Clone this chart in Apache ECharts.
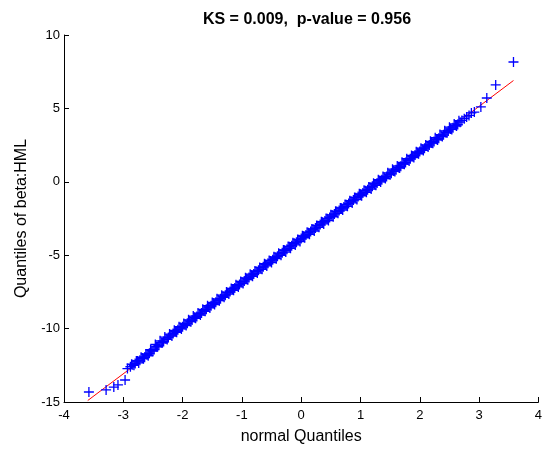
<!DOCTYPE html>
<html>
<head>
<meta charset="utf-8">
<script src="https://cdn.jsdelivr.net/npm/echarts@6/dist/echarts.min.js"></script>
<style>
  html, body { margin: 0; padding: 0; background: #fff; }
  #main { width: 545px; height: 452px; }
</style>
</head>
<body>
<div id="main"></div>
<script>
// normal quantiles (x) and sample quantiles of beta:HML (y)
var qx = [
  -3.58, -3.29, -3.16, -3.09, -2.97, -2.93,
  -2.88, -2.84, -2.80, -2.76, -2.72, -2.68, -2.64, -2.60, -2.56, -2.52,
  -2.48, -2.44, -2.40, -2.36, -2.32, -2.28, -2.24, -2.20, -2.16, -2.12,
  -2.08, -2.04, -2.00, -1.96, -1.92, -1.88, -1.84, -1.80, -1.76, -1.72,
  -1.68, -1.64, -1.60, -1.56, -1.52, -1.48, -1.44, -1.40, -1.36, -1.32,
  -1.28, -1.24, -1.20, -1.16, -1.12, -1.08, -1.04, -1.00, -0.96, -0.92,
  -0.88, -0.84, -0.80, -0.76, -0.72, -0.68, -0.64, -0.60, -0.56, -0.52,
  -0.48, -0.44, -0.40, -0.36, -0.32, -0.28, -0.24, -0.20, -0.16, -0.12,
  -0.08, -0.04, 0.00, 0.04, 0.08, 0.12, 0.16, 0.20, 0.24, 0.28,
  0.32, 0.36, 0.40, 0.44, 0.48, 0.52, 0.56, 0.60, 0.64, 0.68,
  0.72, 0.76, 0.80, 0.84, 0.88, 0.92, 0.96, 1.00, 1.04, 1.08,
  1.12, 1.16, 1.20, 1.24, 1.28, 1.32, 1.36, 1.40, 1.44, 1.48,
  1.52, 1.56, 1.60, 1.64, 1.68, 1.72, 1.76, 1.80, 1.84, 1.88,
  1.92, 1.96, 2.00, 2.04, 2.08, 2.12, 2.16, 2.20, 2.24, 2.28,
  2.32, 2.36, 2.40, 2.44, 2.48, 2.52, 2.56, 2.60, 2.64, 2.68,
  2.71, 2.75, 2.79, 2.83, 2.87, 2.92, 3.03, 3.13, 3.28, 3.58
];
var qy = [
  -14.32, -14.18, -13.98, -13.84, -13.50, -12.72,
  -12.60, -12.46, -12.38, -12.20, -12.15, -12.00, -11.95, -11.78, -11.68, -11.50,
  -11.42, -11.22, -11.14, -10.96, -10.88, -10.70, -10.60, -10.44, -10.34, -10.18,
  -10.08, -9.93, -9.88, -9.72, -9.64, -9.48, -9.42, -9.25, -9.17, -9.01,
  -8.94, -8.78, -8.69, -8.53, -8.45, -8.28, -8.20, -8.04, -7.96, -7.80,
  -7.72, -7.55, -7.47, -7.31, -7.23, -7.08, -7.00, -6.84, -6.76, -6.60,
  -6.52, -6.36, -6.28, -6.11, -6.03, -5.87, -5.79, -5.63, -5.55, -5.39,
  -5.31, -5.15, -5.07, -4.91, -4.83, -4.67, -4.59, -4.43, -4.35, -4.19,
  -4.11, -3.95, -3.87, -3.71, -3.63, -3.47, -3.39, -3.23, -3.15, -2.99,
  -2.91, -2.75, -2.67, -2.51, -2.43, -2.27, -2.19, -2.03, -1.96, -1.80,
  -1.72, -1.56, -1.48, -1.32, -1.24, -1.08, -1.00, -0.85, -0.77, -0.61,
  -0.54, -0.38, -0.31, -0.16, -0.09, 0.07, 0.14, 0.29, 0.36, 0.51,
  0.59, 0.74, 0.82, 0.98, 1.06, 1.23, 1.31, 1.48, 1.57, 1.74,
  1.82, 1.98, 2.06, 2.22, 2.29, 2.44, 2.51, 2.66, 2.74, 2.89,
  2.96, 3.14, 3.20, 3.36, 3.46, 3.59, 3.68, 3.85, 3.90, 4.06,
  4.18, 4.30, 4.42, 4.52, 4.69, 4.75, 5.10, 5.71, 6.60, 8.16
];
// in-between sample points that make up the body of the band
var qx2 = [
  -2.86, -2.82, -2.78, -2.74, -2.70, -2.66, -2.62, -2.58, -2.54, -2.50,
  -2.46, -2.42, -2.38, -2.34, -2.30, -2.26, -2.22, -2.18, -2.14, -2.10,
  -2.06, -2.02, -1.98, -1.94, -1.90, -1.86, -1.82, -1.78, -1.74, -1.70,
  -1.66, -1.62, -1.58, -1.54, -1.50, -1.46, -1.42, -1.38, -1.34, -1.30,
  -1.26, -1.22, -1.18, -1.14, -1.10, -1.06, -1.02, -0.98, -0.94, -0.90,
  -0.86, -0.82, -0.78, -0.74, -0.70, -0.66, -0.62, -0.58, -0.54, -0.50,
  -0.46, -0.42, -0.38, -0.34, -0.30, -0.26, -0.22, -0.18, -0.14, -0.10,
  -0.06, -0.02, 0.02, 0.06, 0.10, 0.14, 0.18, 0.22, 0.26, 0.30,
  0.34, 0.38, 0.42, 0.46, 0.50, 0.54, 0.58, 0.62, 0.66, 0.70,
  0.74, 0.78, 0.82, 0.86, 0.90, 0.94, 0.98, 1.02, 1.06, 1.10,
  1.14, 1.18, 1.22, 1.26, 1.30, 1.34, 1.38, 1.42, 1.46, 1.50,
  1.54, 1.58, 1.62, 1.66, 1.70, 1.74, 1.78, 1.82, 1.86, 1.90,
  1.94, 1.98, 2.02, 2.06, 2.10, 2.14, 2.18, 2.22, 2.26, 2.30,
  2.34, 2.38, 2.42, 2.46, 2.50, 2.54, 2.58, 2.62, 2.66
];
var qy2 = [
  -12.42, -12.50, -12.21, -12.34, -11.95, -12.05, -11.73, -11.85, -11.44, -11.54,
  -11.08, -11.22, -10.83, -10.96, -10.58, -10.74, -10.37, -10.51, -10.12, -10.25,
  -9.87, -10.02, -9.65, -9.79, -9.40, -9.53, -9.15, -9.30, -8.94, -9.08,
  -8.69, -8.82, -8.44, -8.59, -8.22, -8.36, -7.97, -8.10, -7.72, -7.87,
  -7.51, -7.65, -7.26, -7.39, -7.01, -7.16, -6.79, -6.93, -6.54, -6.67,
  -6.29, -6.44, -6.07, -6.22, -5.83, -5.96, -5.58, -5.73, -5.36, -5.50,
  -5.11, -5.24, -4.86, -5.01, -4.64, -4.79, -4.40, -4.53, -4.15, -4.30,
  -3.93, -4.07, -3.68, -3.81, -3.43, -3.58, -3.21, -3.35, -2.97, -3.10,
  -2.72, -2.87, -2.50, -2.64, -2.25, -2.38, -2.00, -2.15, -1.78, -1.92,
  -1.54, -1.67, -1.29, -1.44, -1.07, -1.21, -0.82, -0.95, -0.57, -0.72,
  -0.35, -0.49, -0.10, -0.24, 0.14, -0.01, 0.36, 0.22, 0.61, 0.48,
  0.86, 0.71, 1.08, 0.94, 1.33, 1.20, 1.57, 1.42, 1.79, 1.65,
  2.04, 1.91, 2.29, 2.14, 2.51, 2.37, 2.76, 2.63, 3.00, 2.85,
  3.22, 3.08, 3.47, 3.34, 3.72, 3.57, 3.94, 3.80, 4.16
];
// reference line end points
var refX = [-3.6, 3.58];
var refY = [-14.9, 6.9];

var titleText = "KS = 0.009,  p-value = 0.956";

var pts = [];
for (var i = 0; i < qx.length; i++) pts.push([qx[i], qy[i]]);
for (var j = 0; j < qx2.length; j++) pts.push([qx2[j], qy2[j]]);
var line = [[refX[0], refY[0]], [refX[1], refY[1]]];

var font = "'Liberation Sans', Arial, sans-serif";
var myChart = echarts.init(document.getElementById("main"));
var option = {
  animation: false,
  backgroundColor: "#fff",
  title: {
    text: titleText,
    left: 302,
    textAlign: "center",
    top: 7,
    textStyle: { fontFamily: font, fontSize: 16, fontWeight: "bold", color: "#000" }
  },
  grid: { left: 64, right: 5, top: 35, bottom: 50 },
  xAxis: {
    type: "value",
    min: -4,
    max: 4,
    interval: 1,
    name: "normal Quantiles",
    nameLocation: "middle",
    nameGap: 27,
    nameTextStyle: { fontFamily: font, fontSize: 16, color: "#000" },
    axisLine: { onZero: false, lineStyle: { color: "#000", width: 1 } },
    axisTick: { inside: true, length: 5, lineStyle: { color: "#000" } },
    axisLabel: { fontFamily: font, fontSize: 13, color: "#000", margin: 7 },
    splitLine: { show: false }
  },
  yAxis: {
    type: "value",
    min: -15,
    max: 10,
    interval: 5,
    name: "Quantiles of beta:HML",
    nameLocation: "middle",
    nameGap: 34,
    nameTextStyle: { fontFamily: font, fontSize: 16, color: "#000" },
    axisLine: { show: true, onZero: false, lineStyle: { color: "#000", width: 1 } },
    axisTick: { show: true, inside: true, length: 5, lineStyle: { color: "#000" } },
    axisLabel: { fontFamily: font, fontSize: 13, color: "#000", margin: 4 },
    splitLine: { show: false }
  },
  series: [
    {
      type: "line",
      data: line,
      symbol: "none",
      z: 1,
      lineStyle: { color: "#ff0000", width: 1 }
    },
    {
      type: "scatter",
      data: pts,
      z: 2,
      symbol: "path://M0,5L10,5M5,0L5,10",
      symbolSize: 10,
      itemStyle: { color: "transparent", borderColor: "#0000ff", borderWidth: 1.3, opacity: 1 }
    }
  ]
};
myChart.setOption(option);
</script>
</body>
</html>
